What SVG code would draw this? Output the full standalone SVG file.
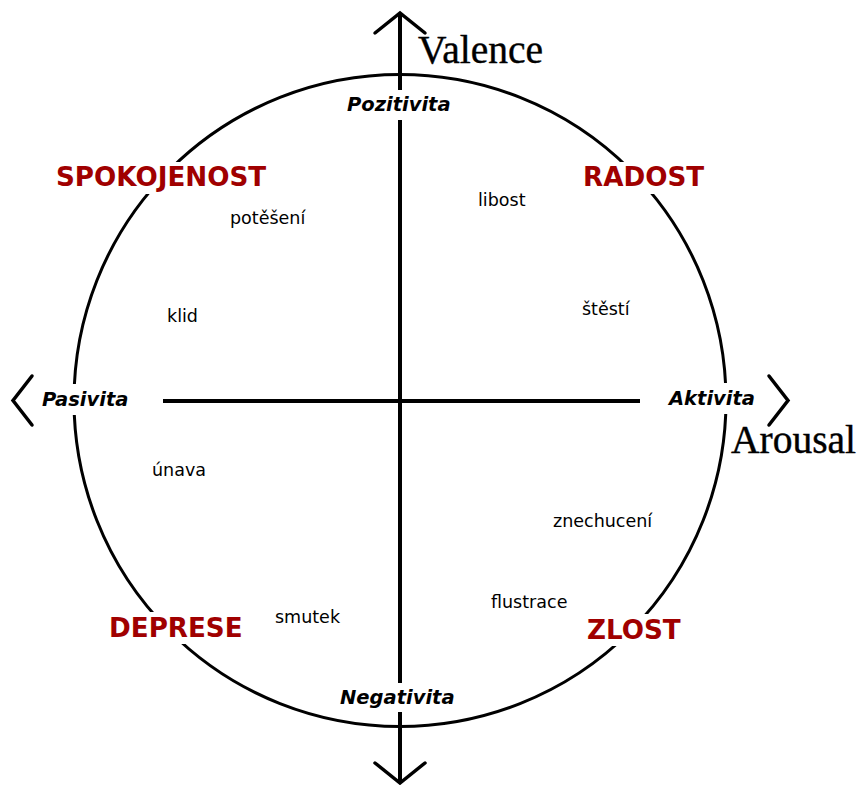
<svg xmlns="http://www.w3.org/2000/svg" width="857" height="785" viewBox="0 0 857 785">
<style>
.ax{stroke:#000;stroke-width:4;fill:none}
.ah{stroke:#000;stroke-width:3.5;fill:none;stroke-linecap:round;stroke-linejoin:miter}
.bg{fill:#fff;stroke:none}
.pole{font-family:"DejaVu Sans",sans-serif;font-weight:bold;font-style:italic;font-size:19.5px;fill:#000}
.emo{font-family:"DejaVu Sans",sans-serif;font-weight:bold;font-size:26.2px;fill:#a00000}
.sm{font-family:"DejaVu Sans",sans-serif;font-size:17.5px;fill:#000}
.axt{font-family:"Liberation Serif",serif;font-size:39.5px;fill:#000;stroke:#000;stroke-width:0.4}
</style>
<rect width="857" height="785" fill="#fff"/>
<g id="connectors">
<circle cx="400" cy="400.5" r="326" stroke="#000" stroke-width="3" fill="none"/>
<line class="ax" x1="400" y1="13" x2="400" y2="783"/>
<line class="ax" x1="163" y1="401" x2="640" y2="401"/>
</g>
<g id="pole-pozitivita"><rect class="bg" x="343" y="90" width="114" height="30"/><text class="pole" x="347" y="111">Pozitivita</text></g>
<g id="pole-negativita"><rect class="bg" x="335" y="683" width="126" height="29"/><text class="pole" x="340" y="704">Negativita</text></g>
<g id="pole-pasivita"><rect class="bg" x="10" y="384" width="150" height="31"/><text class="pole" x="42" y="406">Pasivita</text></g>
<g id="pole-aktivita"><rect class="bg" x="643" y="383" width="148" height="31"/><text class="pole" x="669" y="405">Aktivita</text></g>
<g id="arrows">
<polyline class="ah" points="375,33 400,13 425,33"/>
<polyline class="ah" points="375,763 400,783 425,763"/>
<polyline class="ah" points="32,376 13,400.5 32,425"/>
<polyline class="ah" points="769,376 788,400.5 769,425"/>
</g>
<g id="axis-valence"><text class="axt" x="418" y="63">Valence</text></g>
<g id="axis-arousal"><text class="axt" x="731" y="453">Arousal</text></g>
<g id="spokojenost"><rect class="bg" x="52" y="162" width="218" height="32"/><text class="emo" x="56" y="186">SPOKOJENOST</text></g>
<g id="radost"><rect class="bg" x="579" y="162" width="128" height="32"/><text class="emo" x="583" y="186">RADOST</text></g>
<g id="deprese"><rect class="bg" x="106" y="612" width="138" height="32"/><text class="emo" x="109" y="637">DEPRESE</text></g>
<g id="zlost"><rect class="bg" x="583" y="614" width="102" height="32"/><text class="emo" x="587" y="639">ZLOST</text></g>
<g id="potešení"><text class="sm" x="230" y="224">potěšení</text></g>
<g id="libost"><text class="sm" x="478" y="206">libost</text></g>
<g id="štěstí"><text class="sm" x="582" y="315">štěstí</text></g>
<g id="klid"><text class="sm" x="167" y="322">klid</text></g>
<g id="únava"><text class="sm" x="152" y="476">únava</text></g>
<g id="znechucení"><text class="sm" x="553" y="527">znechucení</text></g>
<g id="flustrace"><text class="sm" x="491" y="608">flustrace</text></g>
<g id="smutek"><text class="sm" x="275" y="623">smutek</text></g>
</svg>
